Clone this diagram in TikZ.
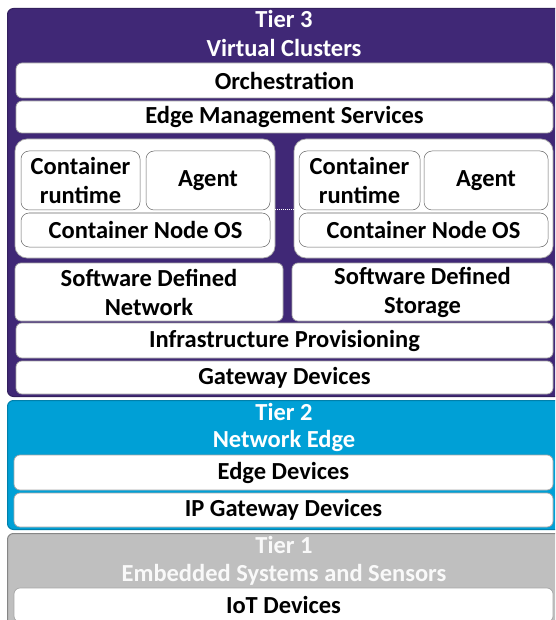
\documentclass[tikz,border=0pt]{standalone}
\usepackage{fontspec}
\setmainfont{Carlito}
\usetikzlibrary{positioning}

\definecolor{tierpurple}{RGB}{64,40,118}
\definecolor{tierblue}{RGB}{0,160,214}
\definecolor{tiergray}{RGB}{191,191,191}

\tikzset{
  tierbox/.style={rounded corners=6pt, line width=1pt, anchor=north west, inner sep=0pt},
  tiertitle/.style={text=white, font=\fontsize{24.5}{29}\selectfont\bfseries},
  layer/.style={draw=gray!70, fill=white, rounded corners=6pt, line width=0.7pt,
    inner sep=0pt, align=center, font=\fontsize{24.5}{29}\selectfont\bfseries},
  group/.style={layer, rounded corners=12pt},
  part/.style={layer, draw=gray!80!black, line width=0.5pt, rounded corners=8pt},
}

\begin{document}
\begin{tikzpicture}[x=1pt, y=-1pt]
  \clip (0,0) rectangle (555,620);
  \fill[white] (0,0) rectangle (555,620);

  % tier 3
  \node[tierbox, fill=tierpurple, draw=tierpurple!80!black,
    minimum width=560, minimum height=388] (tierthree) at (7,8) {};
  \node[tiertitle] (t3a) at (284,19) {Tier 3};
  \node[tiertitle] (t3b) at (284,48) {Virtual Clusters};

  \node[layer, minimum width=537, minimum height=35] (orch) at (284.5,80.5) {Orchestration};
  \node[layer, minimum width=537, minimum height=32] (ems) at (284.5,117) {Edge Management Services};

  \node[group, minimum width=260, minimum height=119] (grpL) at (145,198.5) {};
  \node[group, minimum width=259, minimum height=119] (grpR) at (423.5,198.5) {};

  \node[part, minimum width=119, minimum height=59] (crL) at (80.5,180.5) {Container\\runtime};
  \node[part, minimum width=124, minimum height=59] (agL) at (208,180.5) {Agent};
  \node[part, minimum width=249, minimum height=34] (osL) at (145.5,230) {Container Node OS};

  \node[part, minimum width=121, minimum height=59] (crR) at (359.5,180.5) {Container\\runtime};
  \node[part, minimum width=124, minimum height=59] (agR) at (486,180.5) {Agent};
  \node[part, minimum width=249, minimum height=34] (osR) at (423.5,230) {Container Node OS};

  \draw[white, densely dotted, line width=1pt]
    ([yshift=-11.5pt]grpL.east) -- ([yshift=-11.5pt]grpR.west);

  \node[layer, minimum width=268, minimum height=58] (sdn) at (149,292) {Software Defined\\Network};
  \node[layer, minimum width=261, minimum height=58] (sds) at (422.5,292) {Software Defined\\Storage};
  \node[layer, minimum width=537, minimum height=35] (infra) at (284.5,340.5) {Infrastructure Provisioning};
  \node[layer, minimum width=537, minimum height=33] (gw) at (284.5,377.5) {Gateway Devices};

  % tier 2
  \node[tierbox, fill=tierblue, draw=tierblue!80!black,
    minimum width=560, minimum height=129] (tiertwo) at (7,400) {};
  \node[tiertitle] (t2a) at (284,412) {Tier 2};
  \node[tiertitle] (t2b) at (284,441) {Network Edge};

  \node[layer, minimum width=539, minimum height=35] (edge) at (283.5,472.5) {Edge Devices};
  \node[layer, minimum width=539, minimum height=34] (ipgw) at (283.5,510) {IP Gateway Devices};

  % tier 1
  \node[tierbox, fill=tiergray, draw=tiergray!70!black,
    minimum width=560, minimum height=110] (tierone) at (7,533) {};
  \node[tiertitle, text=white!95!gray] (t1a) at (284,545) {Tier 1};
  \node[tiertitle, text=white!95!gray] (t1b) at (284,575) {Embedded Systems and Sensors};

  \node[layer, minimum width=539, minimum height=34] (iot) at (283.5,605) {IoT Devices};
\end{tikzpicture}
\end{document}
